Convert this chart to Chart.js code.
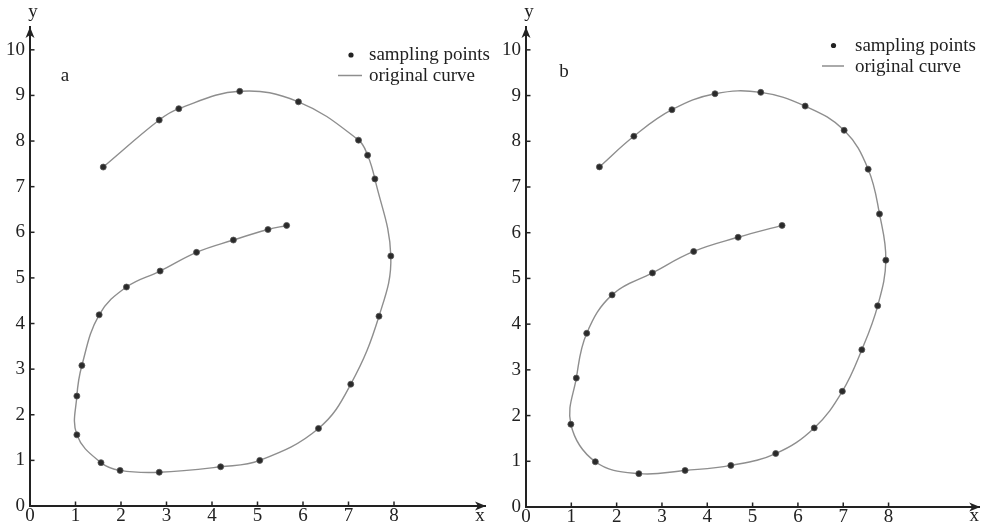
<!DOCTYPE html>
<html>
<head>
<meta charset="utf-8">
<script src="https://cdn.jsdelivr.net/npm/chart.js@4.4.1/dist/chart.umd.min.js"></script>
<style>
  html, body { margin: 0; padding: 0; background: #fff; }
  body { width: 984px; height: 530px; position: relative; overflow: hidden; }
  canvas { position: absolute; top: 0; }
</style>
</head>
<body>
<canvas id="chartA" width="494" height="530" style="left:0px"></canvas>
<canvas id="chartB" width="488" height="530" style="left:496px"></canvas>
<script>
// ---- data ----
const xTickLabels = [0, 1, 2, 3, 4, 5, 6, 7, 8];
const yTickLabels = [0, 1, 2, 3, 4, 5, 6, 7, 8, 9, 10];

// panel a sampling points (in order along the curve)
const aX = [1.61, 2.84, 3.27, 4.61, 5.90, 7.22, 7.42, 7.58, 7.93, 7.67, 7.05, 6.34, 5.05, 4.19, 2.84, 1.98, 1.56, 1.03, 1.03, 1.14, 1.52, 2.12, 2.86, 3.66, 4.47, 5.23, 5.64];
const aY = [7.43, 8.46, 8.71, 9.09, 8.86, 8.02, 7.69, 7.17, 5.48, 4.16, 2.67, 1.70, 1.00, 0.86, 0.74, 0.78, 0.95, 1.56, 2.41, 3.08, 4.19, 4.80, 5.15, 5.56, 5.83, 6.06, 6.15];

// panel b sampling points
const bX = [1.62, 2.38, 3.22, 4.17, 5.18, 6.16, 7.02, 7.55, 7.80, 7.94, 7.76, 7.41, 6.98, 6.36, 5.51, 4.52, 3.51, 2.49, 1.53, 0.99, 1.11, 1.34, 1.90, 2.79, 3.70, 4.68, 5.65];
const bY = [7.44, 8.11, 8.69, 9.04, 9.07, 8.77, 8.24, 7.39, 6.41, 5.40, 4.40, 3.44, 2.53, 1.73, 1.17, 0.91, 0.80, 0.73, 0.99, 1.81, 2.82, 3.80, 4.64, 5.12, 5.59, 5.90, 6.16];

const seriesLabels = ['sampling points', 'original curve'];
const panelLabels = ['a', 'b'];

// ---- styling ----
const FONT = "'Liberation Serif', 'DejaVu Serif', serif";
const INK = '#222';
const CURVE = '#8e8e8e';

function pts(xs, ys) { return xs.map((x, i) => ({ x: x, y: ys[i] })); }

function arrowHead(ctx, tipX, tipY, dir) {
  ctx.save();
  ctx.translate(tipX, tipY);
  if (dir === 'up') ctx.rotate(-Math.PI / 2);
  ctx.beginPath();
  ctx.moveTo(0, 0);
  ctx.lineTo(-11, -4.5);
  ctx.lineTo(-8, 0);
  ctx.lineTo(-11, 4.5);
  ctx.closePath();
  ctx.fillStyle = INK;
  ctx.fill();
  ctx.restore();
}

function makePlugin(opt) {
  return {
    id: 'decor' + opt.label,
    afterDraw(chart) {
      const ctx = chart.ctx;
      const ca = chart.chartArea;
      const xs = chart.scales.x, ys = chart.scales.y;
      const x0 = xs.getPixelForValue(0);
      const y0 = ys.getPixelForValue(0);
      ctx.save();
      // inward tick marks
      ctx.strokeStyle = INK;
      ctx.lineWidth = 1.5;
      xTickLabels.forEach(v => {
        if (v === 0) return;
        const px = xs.getPixelForValue(v);
        ctx.beginPath(); ctx.moveTo(px, y0); ctx.lineTo(px, y0 - 4.5); ctx.stroke();
      });
      yTickLabels.forEach(v => {
        if (v === 0) return;
        const py = ys.getPixelForValue(v);
        ctx.beginPath(); ctx.moveTo(x0, py); ctx.lineTo(x0 + 4.5, py); ctx.stroke();
      });
      // arrows
      ctx.lineWidth = 2;
      ctx.beginPath(); ctx.moveTo(ca.right - 6, y0); ctx.lineTo(ca.right, y0); ctx.stroke();
      arrowHead(ctx, ca.right + 1, y0, 'right');
      arrowHead(ctx, x0, ca.top, 'up');
      // axis letters
      ctx.fillStyle = INK;
      ctx.font = '19px ' + FONT;
      ctx.textAlign = 'center';
      ctx.textBaseline = 'alphabetic';
      ctx.fillText('x', ca.right - 5, 521);
      ctx.fillText('y', x0 + 3, 17);
      // panel letter
      ctx.fillText(opt.label, opt.labelX, opt.labelY);
      // legend
      ctx.textAlign = 'left';
      const b1 = opt.legendY, b2 = opt.legendY + 21;
      ctx.fillText(seriesLabels[0], opt.textX, b1);
      ctx.fillText(seriesLabels[1], opt.textX, b2);
      ctx.beginPath();
      ctx.arc(opt.dotX, b1 - 5, 2.6, 0, Math.PI * 2);
      ctx.fillStyle = INK; ctx.fill();
      ctx.strokeStyle = CURVE; ctx.lineWidth = 1.5;
      ctx.beginPath(); ctx.moveTo(opt.lineX1, b2 - 5.5); ctx.lineTo(opt.lineX2, b2 - 5.5); ctx.stroke();
      ctx.restore();
    }
  };
}

function makeChart(id, xsArr, ysArr, opt) {
  const data = pts(xsArr, ysArr);
  return new Chart(document.getElementById(id), {
    type: 'scatter',
    data: {
      datasets: [
        {
          label: seriesLabels[1],
          data: data,
          showLine: true,
          tension: 0.4,
          borderColor: CURVE,
          borderWidth: 1.4,
          pointRadius: 0,
          pointHoverRadius: 0,
          fill: false,
          order: 2
        },
        {
          label: seriesLabels[0],
          data: data,
          showLine: false,
          pointRadius: 3,
          pointBackgroundColor: '#2a2a2a',
          pointBorderColor: '#555',
          pointBorderWidth: 0.8,
          order: 1
        }
      ]
    },
    options: {
      responsive: false,
      animation: false,
      devicePixelRatio: 1,
      layout: { padding: { left: 0, right: opt.padRight, top: 27, bottom: 0 } },
      plugins: { legend: { display: false }, tooltip: { enabled: false }, title: { display: false } },
      scales: {
        x: {
          type: 'linear', min: 0, max: 10,
          grid: { display: false, drawTicks: false },
          border: { display: true, color: INK, width: 2 },
          ticks: {
            stepSize: 1, autoSkip: false, maxRotation: 0, padding: 1,
            color: INK, font: { family: FONT, size: 19, lineHeight: 1 },
            callback: v => (xTickLabels.includes(v) ? String(v) : '')
          },
          afterFit: s => { s.height = opt.xAxisH; }
        },
        y: {
          type: 'linear', min: 0, max: 10.5,
          grid: { display: false, drawTicks: false },
          border: { display: true, color: INK, width: 2 },
          ticks: {
            stepSize: 1, autoSkip: false, padding: 5,
            color: INK, font: { family: FONT, size: 19, lineHeight: 1 },
            callback: v => (yTickLabels.includes(v) ? String(v) : '')
          },
          afterFit: s => { s.width = 30; }
        }
      }
    },
    plugins: [makePlugin(opt)]
  });
}

makeChart('chartA', aX, aY, {
  label: panelLabels[0], labelX: 65, labelY: 81, xAxisH: 24, padRight: 9,
  legendY: 60, textX: 369, dotX: 351, lineX1: 338, lineX2: 362
});
makeChart('chartB', bX, bY, {
  label: panelLabels[1], labelX: 68, labelY: 77, xAxisH: 23, padRight: 3,
  legendY: 50.5, textX: 359, dotX: 337.5, lineX1: 326, lineX2: 348
});
</script>
</body>
</html>
